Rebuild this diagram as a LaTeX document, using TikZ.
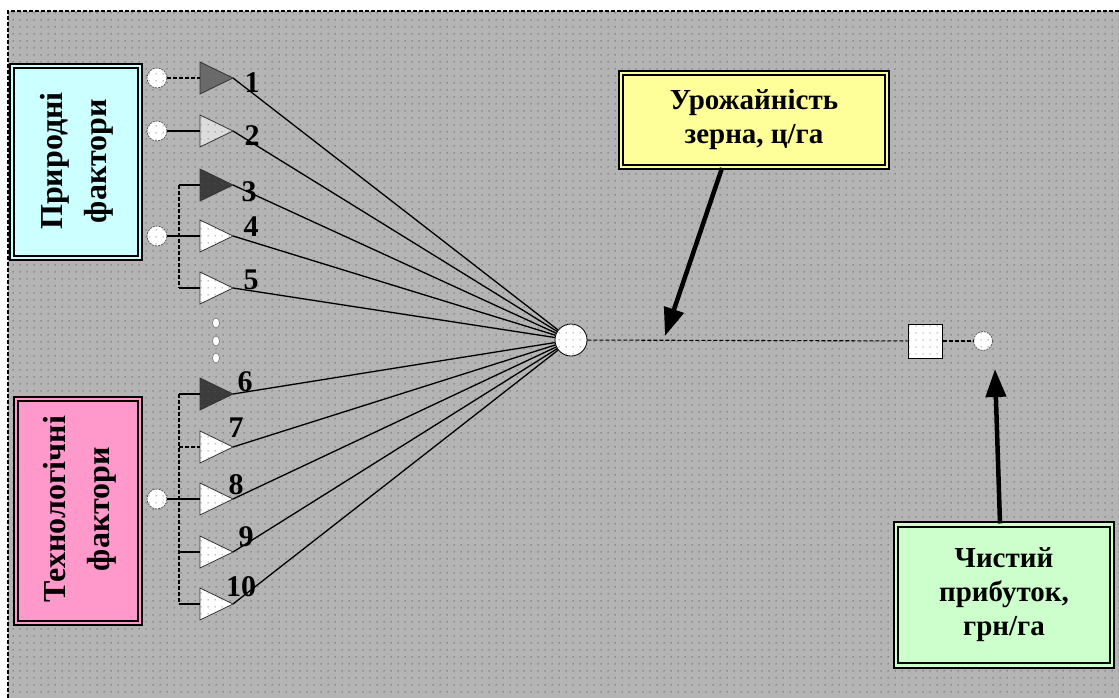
\documentclass[tikz,border=0pt]{standalone}
\usepackage{fontspec}
\setmainfont{Liberation Serif}
\usetikzlibrary{patterns.meta,arrows.meta,shapes.geometric}
\definecolor{bg}{HTML}{B4B4B4}
\definecolor{dotc}{HTML}{5E5E5E}
\definecolor{cyanbox}{HTML}{CCFFFF}
\definecolor{pinkbox}{HTML}{FF99CC}
\definecolor{yelbox}{HTML}{FFFF99}
\definecolor{grnbox}{HTML}{CCFFCC}
\definecolor{trione}{HTML}{6A6A6A}
\definecolor{tritwo}{HTML}{DCDCDC}
\definecolor{tridark}{HTML}{3C3C3C}
\tikzset{
  dotfill/.style={postaction={pattern={Dots[distance=6.5pt,radius=0.6pt]},pattern color=dotc}},
  fbox/.style={draw=black,double=#1,double distance=2.5pt,line width=2pt,fill=#1,inner sep=0pt,align=center,
    font=\bfseries\fontsize{29}{34}\selectfont},
  conn/.style={draw=black,line width=1.3pt},
  dsh/.style={draw=black,line width=1.1pt,dash pattern=on 4pt off 2pt},
  tri/.style={draw=black!80,line width=0.8pt},
  inc/.style={circle,draw=black!70,line width=0.7pt,dash pattern=on 2pt off 1pt,fill=white,dotfill,minimum size=20pt,inner sep=0pt},
  ell/.style={ellipse,draw=black!60,line width=0.5pt,fill=white,minimum width=7pt,minimum height=10pt,inner sep=0pt},
  num/.style={font=\bfseries\fontsize{30}{30}\selectfont,inner sep=0pt},
  rtext/.style={rotate=90,font=\bfseries\fontsize{32}{44}\selectfont,align=center},
  bigarrow/.style={line width=4.5pt,-{Triangle[length=28pt,width=20pt]}}
}
\begin{document}
\begin{tikzpicture}[x=1pt,y=-1pt]
\useasboundingbox (0,0) rectangle (1119,698);
% background
\fill[bg] (8,11) rectangle (1119,698);
\fill[pattern={Dots[distance=6.5pt,radius=0.8pt]},pattern color=dotc] (8,11) rectangle (1119,698);
\draw[dsh] (8,698) -- (8,11) -- (1119,11);

% boxes
\node[fbox=cyanbox,minimum width=128pt,minimum height=192pt] (nat) at (76,162) {};
\node[rtext] (natt) at (77,161) {Природні\\фактори};
\node[fbox=pinkbox,minimum width=124pt,minimum height=224pt] (tech) at (78,511) {};
\node[rtext] (techt) at (80,509) {Технологічні\\фактори};
\node[fbox=yelbox,minimum width=266pt,minimum height=94pt] (yel) at (754,120) {Урожайність\\зерна, ц/га};
\node[fbox=grnbox,minimum width=216pt,minimum height=141pt] (grn) at (1004,595) {Чистий\\прибуток,\\грн/га};

% central elements
\node[circle,draw=black,line width=0.8pt,fill=white,dotfill,minimum size=32pt,inner sep=0pt] (c) at (571,340) {};
\node[rectangle,draw=black,line width=1pt,fill=white,dotfill,minimum size=34pt,inner sep=0pt] (sq) at (925,341) {};
\node[circle,draw=black!70,line width=0.7pt,dash pattern=on 2pt off 1pt,fill=white,dotfill,minimum size=19pt,inner sep=0pt] (sc) at (983,341) {};
\draw[dsh] (c) -- (sq);
\draw[dsh] (sq) -- (sc);

% triangle coordinates
\foreach \i/\y in {1/78,2/131,3/185,4/236,5/288,6/394,7/447,8/499,9/552,10/604}{
  \coordinate (l\i) at (200,\y);
  \coordinate (t\i) at (233,\y);
}
% connectors from triangles to centre
\foreach \i in {1,...,10}{
  \draw[conn] (t\i) -- (c);
}
% triangles
\foreach \i/\y/\f in {1/78/trione,2/131/tritwo,3/185/tridark,4/236/white,5/288/white,6/394/tridark,7/447/white,8/499/white,9/552/white,10/604/white}{
  \draw[tri,fill=\f,dotfill] (200,\y-16) -- (233,\y) -- (200,\y+16) -- cycle;
}

% inputs
\node[inc] (in1) at (157,78) {};
\node[inc] (in2) at (157,131) {};
\node[inc] (in4) at (157,236) {};
\node[inc] (in8) at (157,499) {};
\draw[dsh] (in1) -- (l1);
\draw[conn] (in2) -- (l2);
\draw[conn] (in4) -- (l4);
\draw[conn] (in8) -- (l8);
\coordinate (b3) at (179,185);
\coordinate (b5) at (179,288);
\draw[dsh] (b3) -- (b5);
\draw[conn] (b3) -- (l3);
\draw[conn] (b5) -- (l5);
\coordinate (b6) at (179,394);
\coordinate (b7) at (179,447);
\coordinate (b9) at (179,552);
\coordinate (b10) at (179,604);
\draw[dsh] (b6) -- (b10);
\draw[conn] (b6) -- (l6);
\draw[dsh] (b7) -- (l7);
\draw[conn] (b9) -- (l9);
\draw[conn] (b10) -- (l10);

% ellipsis
\node[ell] (e1) at (216,323) {};
\node[ell] (e2) at (216,341) {};
\node[ell] (e3) at (216,358) {};

% numbers
\node[num] (n1) at (252,83) {1};
\node[num] (n2) at (252,136) {2};
\node[num] (n3) at (249,192) {3};
\node[num] (n4) at (251,227) {4};
\node[num] (n5) at (251,280) {5};
\node[num] (n6) at (245,382) {6};
\node[num] (n7) at (236,428) {7};
\node[num] (n8) at (236,485) {8};
\node[num] (n9) at (246,537) {9};
\node[num] (n10) at (241,587) {10};

% arrows
\coordinate (a1e) at (665,336);
\coordinate (a2e) at (995,369);
\draw[bigarrow] ([xshift=-32pt]yel.south) -- (a1e);
\draw[bigarrow] ([xshift=-4pt]grn.north) -- (a2e);
\end{tikzpicture}
\end{document}
